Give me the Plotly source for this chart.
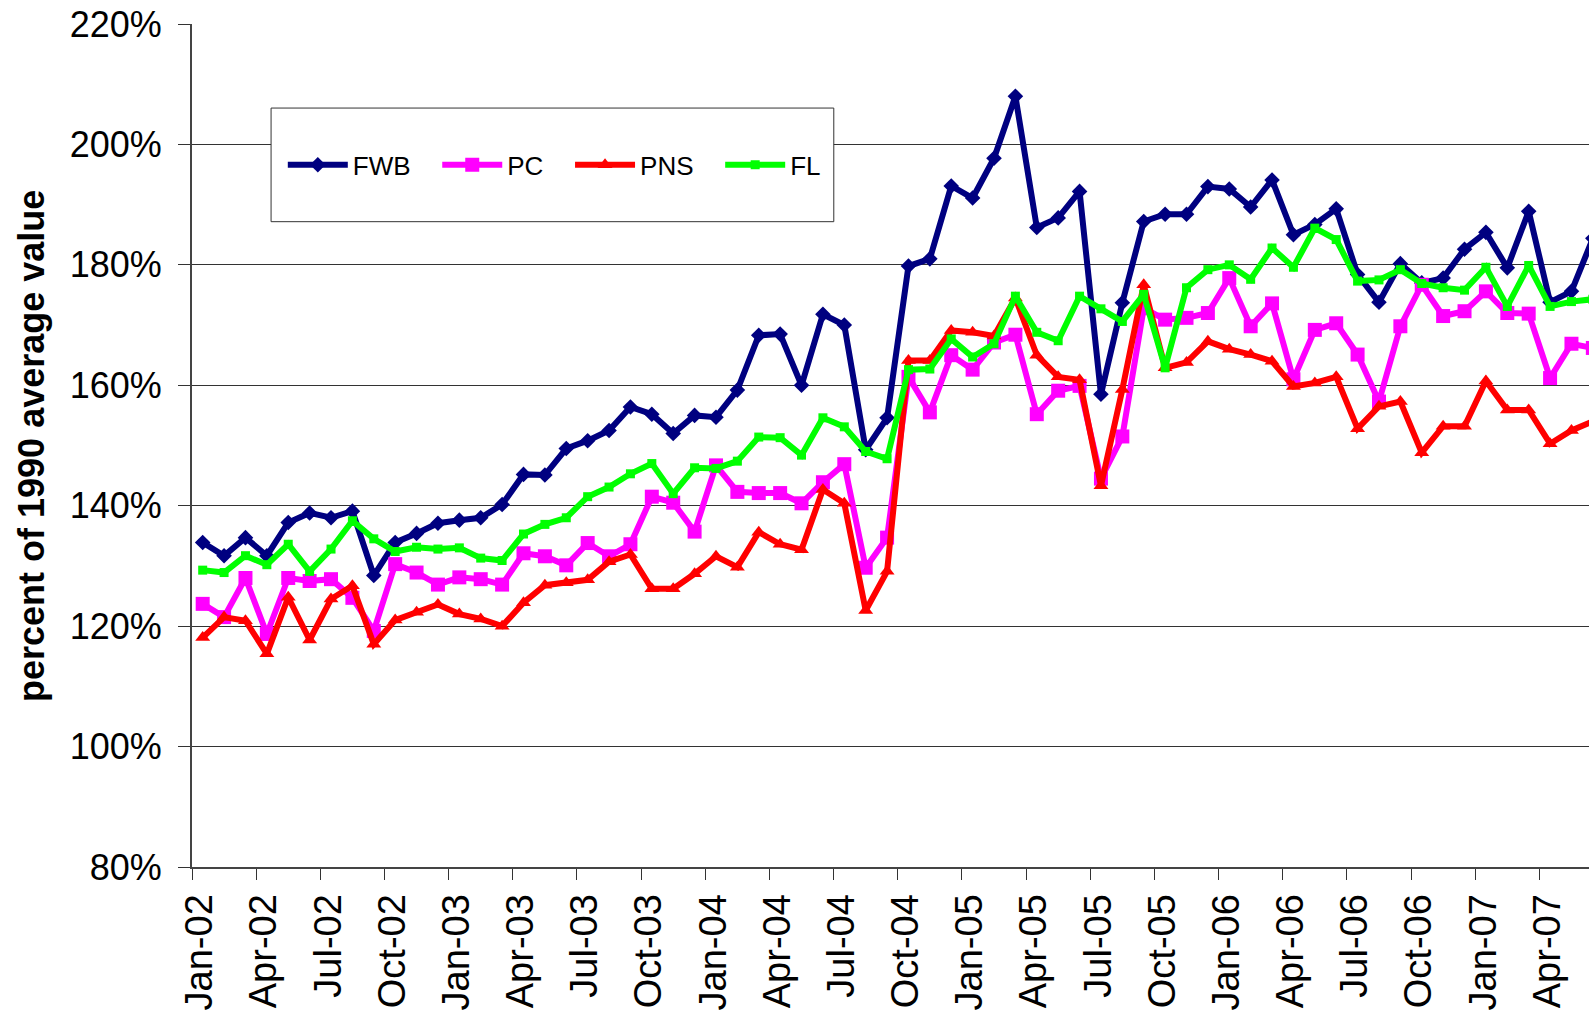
import pandas as pd
import plotly.graph_objects as go

# monthly slots, Jan-02 onward (the chart is cropped after May-07)
months = pd.date_range("2002-01-01", periods=66, freq="MS").strftime("%b-%y").tolist()
slot = list(range(len(months)))

fwb = [133.9, 131.7, 134.7, 131.7, 137.2, 138.8, 138.0, 139.1, 128.4, 133.9, 135.4, 137.1,
       137.6, 138.0, 140.2, 145.2, 145.1, 149.5, 150.8, 152.5, 156.4, 155.2, 152.0, 155.0,
       154.7, 159.2, 168.3, 168.5, 160.0, 171.8, 170.0, 149.3, 154.6, 179.8, 181.0, 193.1,
       191.1, 197.7, 208.0, 186.2, 187.8, 192.2, 158.5, 173.7, 187.2, 188.4, 188.4, 193.0,
       192.6, 189.6, 194.1, 185.0, 186.7, 189.3, 178.4, 173.8, 180.2, 177.0, 177.8, 182.6,
       185.4, 179.5, 188.9, 173.8, 175.6, 184.4]
pc = [123.7, 121.5, 128.0, 118.7, 128.0, 127.5, 127.8, 124.7, 119.2, 130.3, 128.9, 126.9,
      128.1, 127.8, 126.9, 132.1, 131.6, 130.1, 133.8, 131.6, 133.6, 141.5, 140.5, 135.7,
      146.7, 142.3, 142.1, 142.1, 140.4, 143.9, 146.9, 129.7, 134.7, 161.4, 155.5, 165.0,
      162.6, 167.1, 168.4, 155.2, 159.1, 159.9, 144.5, 151.5, 172.8, 170.9, 171.2, 172.0,
      177.8, 169.8, 173.6, 161.0, 169.2, 170.3, 165.1, 157.3, 169.8, 176.7, 171.5, 172.3,
      175.6, 172.0, 171.9, 161.2, 166.9, 166.2]
pns = [118.1, 121.5, 120.9, 115.4, 124.8, 117.7, 124.5, 126.7, 117.0, 121.0, 122.3, 123.6,
       122.0, 121.2, 120.0, 123.9, 126.8, 127.2, 127.7, 130.7, 131.9, 126.2, 126.2, 128.7,
       131.6, 129.8, 135.6, 133.6, 132.7, 142.7, 140.4, 122.6, 129.1, 164.1, 164.1, 169.1,
       168.8, 168.2, 174.5, 165.0, 161.4, 160.9, 143.3, 159.3, 176.7, 162.9, 163.8, 167.3,
       166.0, 165.1, 164.0, 159.8, 160.4, 161.4, 152.8, 156.5, 157.3, 148.8, 153.2, 153.2,
       160.7, 155.9, 155.9, 150.3, 152.5, 154.0]
fl = [129.3, 128.9, 131.7, 130.2, 133.6, 129.1, 132.8, 137.5, 134.5, 132.4, 133.1, 132.8,
      133.0, 131.3, 130.9, 135.3, 136.9, 138.0, 141.5, 143.1, 145.3, 147.0, 142.0, 146.3,
      146.2, 147.4, 151.4, 151.3, 148.4, 154.6, 153.1, 149.0, 147.8, 162.6, 162.7, 167.7,
      164.7, 166.9, 174.8, 168.8, 167.4, 174.8, 172.7, 170.6, 175.1, 162.9, 176.2, 179.2,
      180.0, 177.6, 182.8, 179.6, 186.1, 184.2, 177.3, 177.5, 179.2, 176.9, 176.2, 175.8,
      179.6, 173.1, 179.9, 173.1, 173.9, 174.3]

series = [
    ("FWB", fwb, "#000080", "diamond", 12),
    ("PC", pc, "#FF00FF", "square", 14),
    ("PNS", pns, "#FF0000", "triangle-up", 13),
    ("FL", fl, "#00FF00", "square", 9),
]

y_ticks = list(range(80, 221, 20))
y_labels = [f"{v}%" for v in y_ticks]

FONT = "Liberation Sans, Arial, sans-serif"
PAD = "\u00a0" * 3  # widens each legend entry a bit, like the Excel legend

fig = go.Figure()
for name, vals, color, symbol, size in series:
    fig.add_trace(go.Scatter(
        x=slot, y=vals, name=name + PAD, mode="lines+markers",
        line=dict(color=color, width=6),
        marker=dict(symbol=symbol, size=size, color=color, line=dict(width=0)),
        cliponaxis=True,
    ))

# tick marks sit on the quarter boundaries, labels next to them
tick_pos = [i - 0.5 for i in range(0, len(months), 3)]
tick_txt = [months[i] for i in range(0, len(months), 3)]

fig.update_layout(
    width=1589, height=1011,
    margin=dict(l=192, r=0, t=24, b=144, autoexpand=False),
    paper_bgcolor="white", plot_bgcolor="white",
    font=dict(family=FONT, color="black"),
    showlegend=True,
    legend=dict(
        orientation="h", x=0.065, y=0.833, xanchor="left", yanchor="middle",
        bgcolor="rgba(0,0,0,0)", borderwidth=0,
        font=dict(size=26, family=FONT),
        itemwidth=60,
    ),
    xaxis=dict(
        range=[-0.5, 64.82], tickmode="array", tickvals=tick_pos, ticktext=tick_txt,
        tickangle=-90, tickfont=dict(size=38), ticks="outside", ticklen=11,
        tickcolor="#333", tickwidth=1, showgrid=False, automargin=False,
        showline=True, linecolor="#444", linewidth=2,
        ticklabelshift=8, ticklabelstandoff=-1, zeroline=False,
    ),
    yaxis=dict(
        range=[80, 220], tickmode="array", tickvals=y_ticks, ticktext=y_labels,
        tickfont=dict(size=36), ticks="outside", ticklen=12,
        tickcolor="#333", tickwidth=1, automargin=False,
        showgrid=True, gridcolor="#333", gridwidth=1,
        showline=True, linecolor="#444", linewidth=2,
        ticklabelstandoff=9, zeroline=False,
    ),
    shapes=[dict(
        type="rect", xref="paper", yref="paper",
        x0=0.0566, x1=0.4594, y0=0.7655, y1=0.9003,
        fillcolor="white", line=dict(color="#333", width=1), layer="above",
    )],
    annotations=[dict(
        text="<b>percent of 1990 average value</b>", xref="paper", yref="paper",
        x=-0.1149, y=0.5, xanchor="center", yanchor="middle", textangle=-90,
        showarrow=False, font=dict(size=36, family=FONT),
    )],
)

# drop the browser's default page margin so the figure starts at the corner
fig.write_html("out.html", config={"displayModeBar": False},
               post_script="document.body.style.margin='0';")
